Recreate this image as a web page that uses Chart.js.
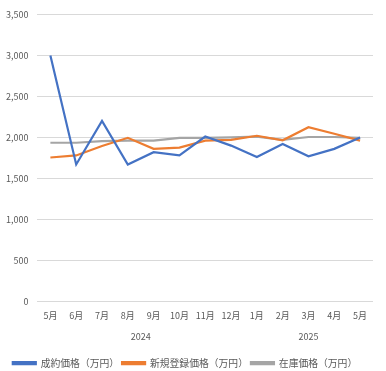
<!DOCTYPE html>
<html>
<head>
<meta charset="utf-8">
<script src="https://cdn.jsdelivr.net/npm/chart.js@4/dist/chart.umd.min.js"></script>
<style>
  html, body { margin: 0; padding: 0; background: #fff; }
  #wrap { width: 386px; height: 371px; }
</style>
</head>
<body>
<div id="wrap"><canvas id="priceChart"></canvas></div>
<script>
var months = ['5月', '6月', '7月', '8月', '9月', '10月', '11月', '12月', '1月', '2月', '3月', '4月', '5月'];
var years = ['2024', '2025'];
var yearFirst = [0, 8];
var yearLast = [7, 12];

var contractPrice = [3000, 1670, 2200, 1670, 1820, 1780, 2010, 1900, 1760, 1920, 1770, 1860, 2000];
var newListingPrice = [1755, 1780, 1895, 1995, 1860, 1875, 1960, 1970, 2020, 1965, 2125, 2045, 1960];
var stockPrice = [1935, 1935, 1955, 1960, 1960, 1995, 1995, 2000, 2010, 1970, 2005, 2005, 1995];

var fontFamily = "'Noto Sans CJK JP', 'Noto Sans', sans-serif";
var textColor = '#595959';

// year labels under the month ticks
var yearLabels = {
    id: 'yearLabels',
    afterDraw: function(chart) {
        var ctx = chart.ctx;
        var xScale = chart.scales.x;
        ctx.save();
        ctx.font = '9px ' + fontFamily;
        ctx.fillStyle = textColor;
        ctx.textAlign = 'center';
        ctx.textBaseline = 'middle';
        for (var i = 0; i < years.length; i++) {
            var x = (xScale.getPixelForValue(yearFirst[i]) + xScale.getPixelForValue(yearLast[i])) / 2;
            ctx.fillText(years[i], x, xScale.bottom - 19);
        }
        ctx.restore();
    }
};

var ctx = document.getElementById('priceChart').getContext('2d');
var myChart = new Chart(ctx, {
    type: 'line',
    data: {
        labels: months,
        datasets: [{
            label: '成約価格（万円）',
            data: contractPrice,
            borderColor: '#4472C4',
            backgroundColor: '#4472C4'
        }, {
            label: '新規登録価格（万円）',
            data: newListingPrice,
            borderColor: '#ED7D31',
            backgroundColor: '#ED7D31'
        }, {
            label: '在庫価格（万円）',
            data: stockPrice,
            borderColor: '#A5A5A5',
            backgroundColor: '#A5A5A5'
        }]
    },
    options: {
        responsive: true,
        maintainAspectRatio: false,
        animation: false,
        elements: {
            line: { borderWidth: 2.2, tension: 0 },
            point: { radius: 0 }
        },
        layout: {
            padding: { left: -3, right: 13, top: -4, bottom: -7 }
        },
        scales: {
            x: {
                offset: true,
                grid: { display: false },
                border: { display: false },
                ticks: {
                    color: textColor,
                    font: { family: fontFamily, size: 9 },
                    maxRotation: 0,
                    autoSkip: false,
                    padding: 1
                },
                afterFit: function(scale) {
                    scale.height += 33;
                }
            },
            y: {
                min: 0,
                max: 3500,
                border: { display: false },
                grid: { color: '#d9d9d9', drawTicks: false },
                ticks: {
                    stepSize: 500,
                    color: textColor,
                    font: { family: fontFamily, size: 9 },
                    padding: 9
                }
            }
        },
        plugins: {
            legend: {
                position: 'bottom',
                labels: {
                    boxWidth: 23,
                    boxHeight: 2,
                    color: textColor,
                    font: { family: fontFamily, size: 9.8 },
                    padding: 3
                }
            },
            tooltip: { enabled: false }
        }
    },
    plugins: [yearLabels]
});
</script>
</body>
</html>
